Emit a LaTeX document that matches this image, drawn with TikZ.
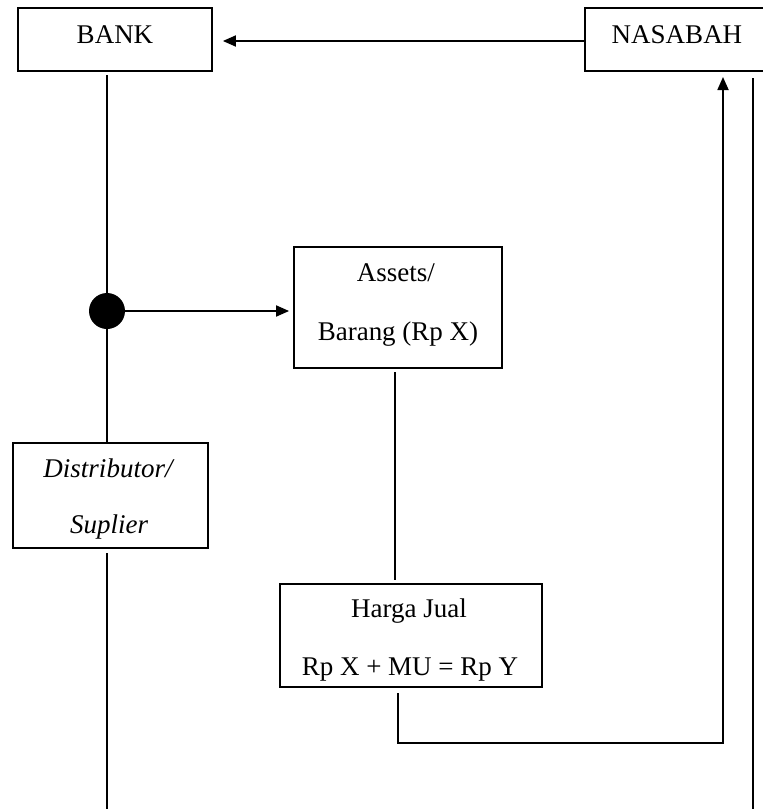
\documentclass[tikz,border=0pt]{standalone}
\usepackage{fontspec}
\setmainfont{Liberation Serif}
\usetikzlibrary{arrows.meta}
\begin{document}
\begin{tikzpicture}[x=1pt,y=-1pt,
  box/.style={draw, line width=1.8pt, inner sep=0pt, rectangle},
  txt/.style={font=\fontsize{27}{30}\selectfont, inner sep=0pt, anchor=base},
  ln/.style={line width=1.8pt},
  arr/.style={line width=1.8pt, -{Triangle[length=13pt,width=11pt]}}]
\useasboundingbox (0,0) rectangle (763,809);
\clip (0,0) rectangle (763,809);
% boxes
\node[box, minimum width=194pt, minimum height=63pt] (bank) at (115,39.5) {};
\node[box, minimum width=190pt, minimum height=63pt] (nasabah) at (680,39.5) {};
\node[box, minimum width=208pt, minimum height=121pt] (assets) at (398,307.5) {};
\node[box, minimum width=195pt, minimum height=105pt] (dist) at (110.5,495.5) {};
\node[box, minimum width=262pt, minimum height=103pt] (harga) at (411,635.5) {};
% texts
\node[txt] (tbank) at (115,43) {BANK};
\node[txt] (tnas) at (677,43) {NASABAH};
\node[txt] (tass1) at (396,281) {Assets/};
\node[txt] (tass2) at (398,340) {Barang (Rp X)};
\node[txt] (tdist1) at (108,477) {\itshape Distributor/};
\node[txt] (tdist2) at (109,533) {\itshape Suplier};
\node[txt] (thar1) at (409,617) {Harga Jual};
\node[txt] (thar2) at (410,675) {Rp X + MU = Rp Y};
% dot
\node[circle, fill=black, minimum size=36pt, inner sep=0pt] (dot) at (107,311) {};
% coordinates
\coordinate (b1) at (106.7,75);
\coordinate (b2) at (106.7,443);
\coordinate (d1) at (107,553);
\coordinate (d2) at (107,809);
\coordinate (a1) at (395,372);
\coordinate (a2) at (395,580);
\coordinate (h1) at (398,693);
\coordinate (h2) at (398,743);
\coordinate (h3) at (723,743);
\coordinate (h4) at (723,77);
\coordinate (r1) at (753,78);
\coordinate (r2) at (753,809);
% connectors
\draw[arr, shorten >=10pt] (nasabah.west |- 0,41) -- (bank.east |- 0,41);
\draw[ln] (b1) -- (b2);
\draw[arr, shorten >=4pt] (dot.center) -- (dot.center -| assets.west);
\draw[ln] (d1) -- (d2);
\draw[ln] (a1) -- (a2);
\draw[arr] (h1) -- (h2) -- (h3) -- (h4);
\draw[ln] (r1) -- (r2);
\end{tikzpicture}
\end{document}
